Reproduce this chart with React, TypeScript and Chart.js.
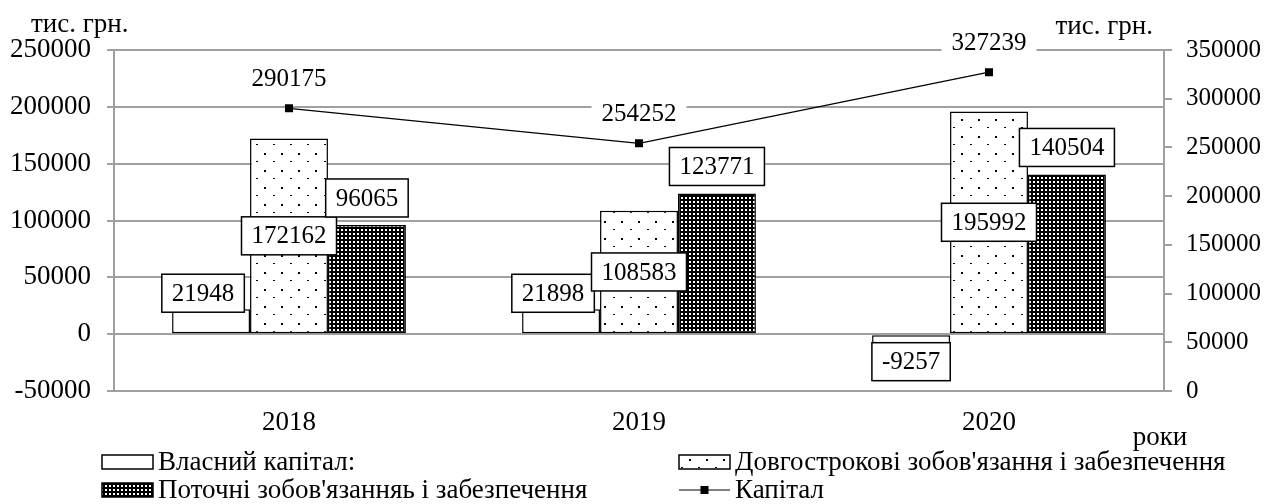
import React, { useEffect, useRef } from 'react';
import { Chart, registerables } from 'chart.js';

Chart.register(...registerables);

// ---- data ----
const years = ['2018', '2019', '2020'];
const ownCapital = [21948, 21898, -9257];
const longTermLiabilities = [172162, 108583, 195992];
const currentLiabilities = [96065, 123771, 140504];
const capital = [290175, 254252, 327239];

const seriesNames = [
  'Власний капітал:',
  "Довгострокові зобов'язання і забезпечення",
  "Поточні зобов'язанняь і забезпечення",
  'Капітал',
];

const leftAxisMin = -50000;
const leftAxisMax = 250000;
const rightAxisMin = 0;
const rightAxisMax = 350000;
const axisStep = 50000;

const unitLabel = 'тис. грн.';
const xAxisTitle = 'роки';

const FONT = '"Liberation Serif", "Times New Roman", serif';
const GRID = '#a0a0a0';
const TEXT_SIZE = 27;
const RIGHT_TICK_SIZE = 25;
const LABEL_SIZE = 25;

function makeDotPattern(): CanvasPattern | string {
  const c = document.createElement('canvas');
  c.width = 17;
  c.height = 17;
  const g = c.getContext('2d');
  if (!g) return '#fff';
  g.fillStyle = '#fff';
  g.fillRect(0, 0, 17, 17);
  g.fillStyle = '#000';
  g.fillRect(9, 0, 2, 2);
  g.fillRect(1, 8, 2, 1);
  return g.createPattern(c, 'repeat') || '#fff';
}

function makeDarkPattern(): CanvasPattern | string {
  const c = document.createElement('canvas');
  c.width = 4;
  c.height = 4;
  const g = c.getContext('2d');
  if (!g) return '#000';
  g.fillStyle = '#000';
  g.fillRect(0, 0, 4, 4);
  g.fillStyle = '#fff';
  g.fillRect(1, 1, 2, 2);
  return g.createPattern(c, 'repeat') || '#000';
}

const boxLabelPlugin = {
  id: 'boxLabels',
  afterDatasetsDraw(chart: any) {
    const ctx = chart.ctx;
    ctx.save();
    ctx.font = `${LABEL_SIZE}px ${FONT}`;
    ctx.textAlign = 'center';
    ctx.textBaseline = 'middle';
    const H = 38;
    chart.data.datasets.forEach((ds: any, di: number) => {
      const meta = chart.getDatasetMeta(di);
      meta.data.forEach((el: any, i: number) => {
        const v = ds.data[i] as number;
        const text = String(v);
        const w = ctx.measureText(text).width + 20;
        const p = el.getProps(['x', 'y', 'base'], true);
        let cx = p.x;
        let cy = p.y;
        let border = true;
        if (di === 0) {
          if (v >= 0) {
            cx = p.x - 8;
            cy = p.y + 3 - H / 2;
          } else {
            cx = p.x;
            cy = p.y - 2 + H / 2;
          }
        } else if (di === 1) {
          cy = (p.y + p.base) / 2;
        } else if (di === 2) {
          cy = p.y - 8 - H / 2;
        } else {
          cy = p.y - 30;
          border = false;
        }
        ctx.fillStyle = '#fff';
        ctx.fillRect(cx - w / 2, cy - H / 2, w, H);
        if (border) {
          ctx.lineWidth = 1.5;
          ctx.strokeStyle = '#000';
          ctx.strokeRect(cx - w / 2, cy - H / 2, w, H);
        }
        ctx.fillStyle = '#000';
        ctx.fillText(text, cx, cy + 1);
      });
    });
    ctx.restore();
  },
};

const decorPlugin = {
  id: 'decor',
  afterDraw(chart: any) {
    const ctx = chart.ctx;
    ctx.save();
    ctx.fillStyle = '#000';
    ctx.font = `${TEXT_SIZE}px ${FONT}`;
    ctx.textBaseline = 'alphabetic';
    ctx.textAlign = 'left';
    ctx.fillText(unitLabel, 31, 32);
    ctx.textAlign = 'right';
    ctx.fillText(unitLabel, 1153, 34);
    ctx.textAlign = 'center';
    ctx.fillText(xAxisTitle, 1160, 445);

    // legend
    const pos = [
      [102, 462],
      [679, 462],
      [102, 490],
      [679, 490],
    ];
    const bw = 51;
    const bh = 14;
    ctx.textAlign = 'left';
    ctx.textBaseline = 'middle';
    chart.data.datasets.forEach((ds: any, i: number) => {
      const [x, y] = pos[i];
      if (ds.type === 'line') {
        ctx.strokeStyle = '#000';
        ctx.lineWidth = 1.2;
        ctx.beginPath();
        ctx.moveTo(x, y);
        ctx.lineTo(x + bw, y);
        ctx.stroke();
        ctx.fillStyle = '#000';
        ctx.fillRect(x + bw / 2 - 4, y - 4, 8, 8);
      } else {
        ctx.fillStyle = ds.backgroundColor;
        ctx.fillRect(x, y - bh / 2, bw, bh);
        ctx.strokeStyle = '#000';
        ctx.lineWidth = 1.5;
        ctx.strokeRect(x, y - bh / 2, bw, bh);
      }
      ctx.fillStyle = '#000';
      ctx.fillText(ds.label, x + bw + 5, y + 1);
    });
    ctx.restore();
  },
};

export default function App() {
  const ref = useRef<HTMLCanvasElement | null>(null);

  useEffect(() => {
    if (!ref.current) return;
    const dots = makeDotPattern();
    const dark = makeDarkPattern();
    const tickFont = { family: FONT, size: TEXT_SIZE };
    const rightTickFont = { family: FONT, size: RIGHT_TICK_SIZE };

    const chart = new Chart(ref.current, {
      type: 'bar',
      data: {
        labels: years,
        datasets: [
          {
            type: 'bar',
            label: seriesNames[0],
            data: ownCapital,
            backgroundColor: '#fff',
            borderColor: '#000',
            borderWidth: 1.5,
            borderSkipped: false,
            yAxisID: 'y',
            order: 1,
          },
          {
            type: 'bar',
            label: seriesNames[1],
            data: longTermLiabilities,
            backgroundColor: dots as any,
            borderColor: '#000',
            borderWidth: 1.5,
            borderSkipped: false,
            yAxisID: 'y',
            order: 1,
          },
          {
            type: 'bar',
            label: seriesNames[2],
            data: currentLiabilities,
            backgroundColor: dark as any,
            borderColor: '#000',
            borderWidth: 1.5,
            borderSkipped: false,
            yAxisID: 'y',
            order: 1,
          },
          {
            type: 'line',
            label: seriesNames[3],
            data: capital,
            borderColor: '#000',
            borderWidth: 1.2,
            backgroundColor: '#000',
            pointStyle: 'rect',
            pointRadius: 5.7,
            pointBorderWidth: 0,
            pointBackgroundColor: '#000',
            yAxisID: 'y1',
            order: 0,
          } as any,
        ],
      },
      options: {
        responsive: false,
        animation: false,
        devicePixelRatio: 1,
        datasets: {
          bar: { barPercentage: 1, categoryPercentage: 0.668 },
        },
        layout: { padding: { top: 50, bottom: 53, left: 0, right: 0 } },
        plugins: {
          legend: { display: false },
          tooltip: { enabled: false },
        },
        scales: {
          x: {
            grid: { display: false },
            border: { display: false },
            ticks: { font: tickFont, color: '#000', padding: 8 },
            afterFit: (s: any) => {
              s.height = 60;
            },
          },
          y: {
            position: 'left',
            min: leftAxisMin,
            max: leftAxisMax,
            ticks: {
              stepSize: axisStep,
              font: tickFont,
              color: '#000',
              padding: 16,
              callback: (v: any) => String(v),
            },
            grid: { color: GRID, lineWidth: 2, tickLength: 7 },
            border: { color: GRID, width: 2 },
            afterFit: (s: any) => {
              s.width = 114;
            },
          },
          y1: {
            position: 'right',
            min: rightAxisMin,
            max: rightAxisMax,
            ticks: {
              stepSize: axisStep,
              font: rightTickFont,
              color: '#000',
              padding: 14,
              callback: (v: any) => String(v),
            },
            grid: { drawOnChartArea: false, color: GRID, lineWidth: 2, tickLength: 8 },
            border: { color: GRID, width: 2 },
            afterFit: (s: any) => {
              s.width = 105;
            },
          },
        },
      } as any,
      plugins: [boxLabelPlugin, decorPlugin],
    });
    return () => chart.destroy();
  }, []);

  return (
    <div style={{ position: 'fixed', left: 0, top: 0, width: 1269, height: 504, background: '#fff' }}>
      <canvas ref={ref} width={1269} height={504} style={{ display: 'block' }} />
    </div>
  );
}
